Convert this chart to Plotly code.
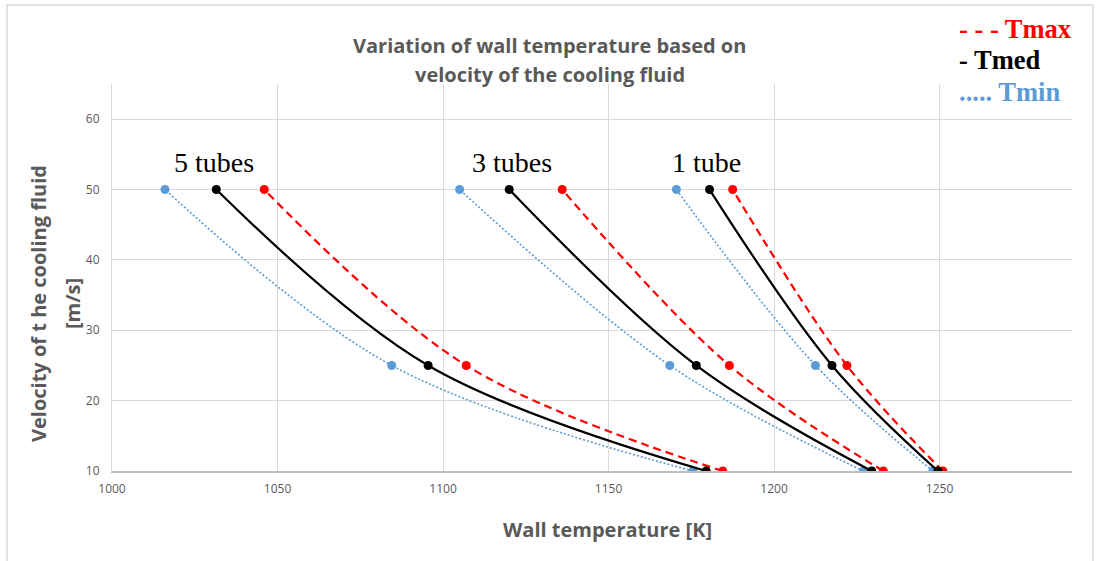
import plotly.graph_objects as go

# Cooling fluid velocity [m/s] at which the wall temperature was evaluated
velocity = [10, 25, 50]

# Wall temperature [K] for each configuration
tmax_5 = [1184.5, 1107.0, 1046.0]
tmed_5 = [1179.5, 1095.5, 1031.5]
tmin_5 = [1175.5, 1084.5, 1016.0]

tmax_3 = [1233.0, 1186.5, 1136.0]
tmed_3 = [1229.5, 1176.5, 1120.0]
tmin_3 = [1227.0, 1168.5, 1105.0]

tmax_1 = [1251.0, 1222.0, 1187.5]
tmed_1 = [1249.5, 1217.5, 1180.5]
tmin_1 = [1248.0, 1212.5, 1170.5]

x_ticks = [1000, 1050, 1100, 1150, 1200, 1250]
y_ticks = [10, 20, 30, 40, 50, 60]

groups = ["5 tubes", "3 tubes", "1 tube"]
group_label_x = [1030.7, 1120.8, 1179.6]
group_label_y = 53.8

RED = "#FF0000"
BLACK = "#000000"
BLUE = "#5B9BD5"
GRAY = "#595959"
GRID = "#D9D9D9"

W, H = 1099, 561
L, R, T, B = 112, 27, 84, 90
PW, PH = W - L - R, H - T - B


def px_x(px):
    return (px - L) / PW


def px_y(py):
    return (H - B - py) / PH


fig = go.Figure()

series = [
    (tmin_5, tmax_5, tmed_5),
    (tmin_3, tmax_3, tmed_3),
    (tmin_1, tmax_1, tmed_1),
]

for tmin, tmax, tmed in series:
    fig.add_trace(go.Scatter(
        x=tmin, y=velocity, mode="lines+markers", line_shape="spline",
        line=dict(color=BLUE, width=1.6, dash="2px,2px"),
        marker=dict(color=BLUE, size=9), showlegend=False, hoverinfo="x+y"))
    fig.add_trace(go.Scatter(
        x=tmax, y=velocity, mode="lines+markers", line_shape="spline",
        line=dict(color=RED, width=2.2, dash="8px,5px"),
        marker=dict(color=RED, size=9), showlegend=False, hoverinfo="x+y"))
    fig.add_trace(go.Scatter(
        x=tmed, y=velocity, mode="lines+markers", line_shape="spline",
        line=dict(color=BLACK, width=2.2),
        marker=dict(color=BLACK, size=9), showlegend=False, hoverinfo="x+y"))

annotations = []

# Configuration labels above each group of curves
for name, gx in zip(groups, group_label_x):
    annotations.append(dict(
        x=gx, y=group_label_y, xref="x", yref="y", text=name, showarrow=False,
        font=dict(family="Liberation Serif", size=28, color=BLACK),
        xanchor="center", yanchor="middle"))

# Chart title (two lines)
title_lines = ["Variation of wall temperature based on", "velocity of the cooling fluid"]
for line, py in zip(title_lines, [46, 74]):
    annotations.append(dict(
        x=px_x(W / 2), y=px_y(py), xref="paper", yref="paper", text=f"<b>{line}</b>",
        showarrow=False, font=dict(family="Open Sans", size=20, color=GRAY),
        xanchor="center", yanchor="middle"))

# Axis titles
annotations.append(dict(
    x=px_x(607), y=px_y(529), xref="paper", yref="paper",
    text="<b>Wall temperature [K]</b>", showarrow=False,
    font=dict(family="Open Sans", size=20, color=GRAY),
    xanchor="center", yanchor="middle"))
for line, px in zip(["Velocity of t he cooling fluid", "[m/s]"], [38, 72]):
    annotations.append(dict(
        x=px_x(px), y=px_y(304), xref="paper", yref="paper",
        text=f"<b>{line}</b>", showarrow=False, textangle=-90,
        font=dict(family="Open Sans", size=20, color=GRAY),
        xanchor="center", yanchor="middle"))

# Legend written as coloured text
legend_items = [
    ("- - - Tmax", RED, 29),
    ("- Tmed", BLACK, 60),
    ("..... Tmin", BLUE, 92),
]
for text, color, py in legend_items:
    annotations.append(dict(
        x=px_x(957), y=px_y(py), xref="paper", yref="paper",
        text=f"<b>{text}</b>", showarrow=False,
        font=dict(family="Liberation Serif", size=26.5, color=color),
        xanchor="left", yanchor="middle"))

# Outer chart frame
shapes = [dict(
    type="rect", xref="paper", yref="paper",
    x0=px_x(7), x1=px_x(1093), y0=px_y(575), y1=px_y(5),
    line=dict(color=GRID, width=1.5), fillcolor="rgba(0,0,0,0)", layer="below")]

fig.update_layout(
    width=W, height=H,
    margin=dict(l=L, r=R, t=T, b=B),
    paper_bgcolor="white", plot_bgcolor="white",
    annotations=annotations, shapes=shapes,
    showlegend=False,
    xaxis=dict(
        range=[1000, 1290], tickvals=x_ticks, ticktext=[str(v) for v in x_ticks],
        showgrid=True, gridcolor=GRID, gridwidth=1,
        showline=True, linecolor="#BFBFBF", linewidth=1.5,
        zeroline=False, ticks="", ticklabelstandoff=6,
        tickfont=dict(family="Open Sans", size=12, color=GRAY)),
    yaxis=dict(
        range=[10, 65], tickvals=y_ticks, ticktext=[str(v) for v in y_ticks],
        showgrid=True, gridcolor=GRID, gridwidth=1,
        showline=True, linecolor=GRID, linewidth=1,
        zeroline=False, ticks="", ticklabelstandoff=9,
        tickfont=dict(family="Open Sans", size=12, color=GRAY)),
)

fig.write_html("out.html")
